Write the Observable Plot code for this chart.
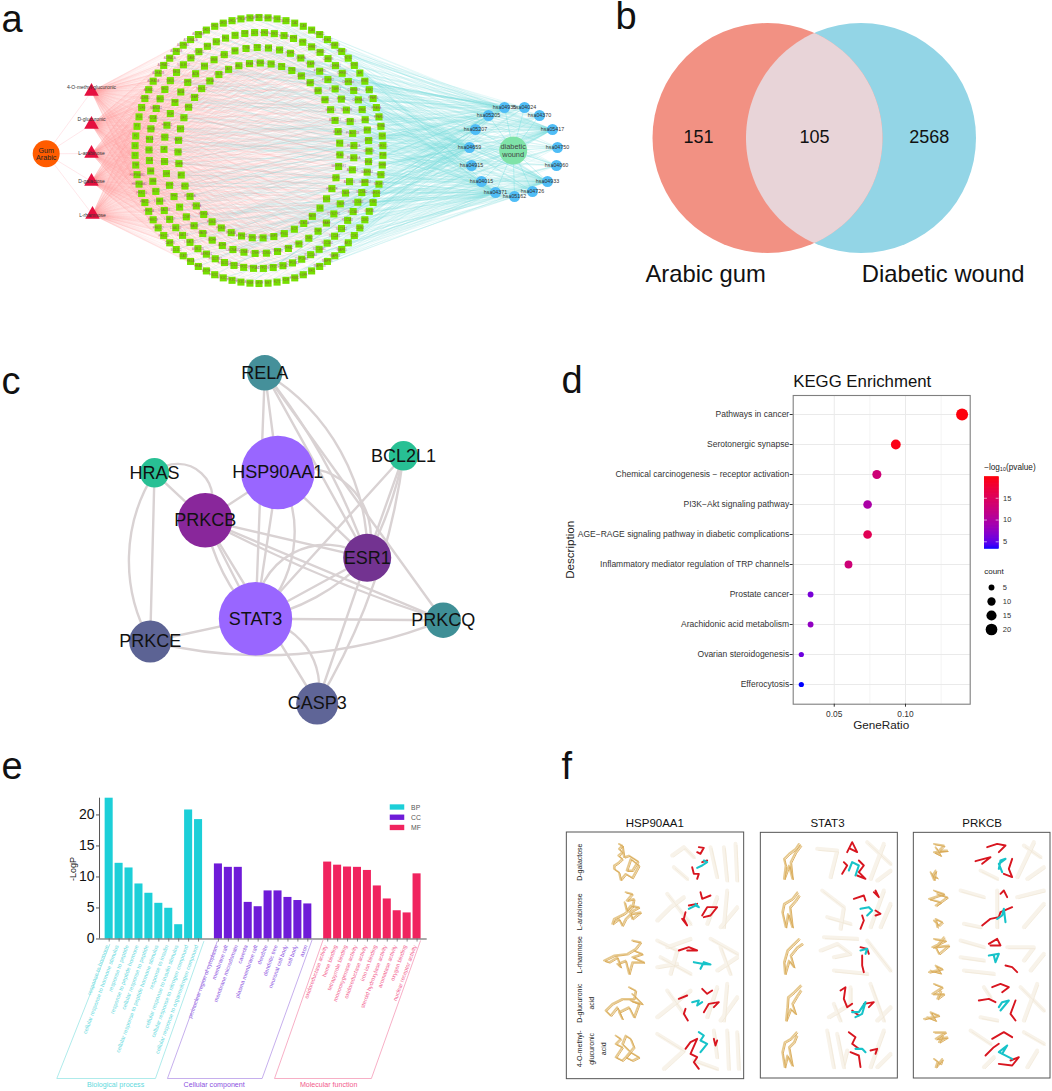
<!DOCTYPE html>
<html>
<head>
<meta charset="utf-8">
<script src="https://cdn.jsdelivr.net/npm/d3@7"></script>
<script src="https://cdn.jsdelivr.net/npm/@observablehq/plot@0.6"></script>
<style>
html,body{margin:0;padding:0;background:#fff}
#fig{position:relative;width:1052px;height:1091px;overflow:hidden;font-family:"Liberation Sans",sans-serif}
#fig svg{position:absolute;max-width:none;overflow:visible}
</style>
</head>
<body>
<div id="fig"></div>
<script>
// ---------- Panel a : network ----------
const compounds = ["4-O-methyl-glucuronic","D-glucuronic","L-arabinose","D-galactose","L-rhamnose"];
const pathways = ["hsa04935","hsa04024","hsa04370","hsa05417","hsa04750","hsa04060","hsa04933","hsa04726","hsa05162","hsa04371","hsa04015","hsa04915","hsa04659","hsa05207","hsa05205"];
const targets = [
"BACE1","MMP9","PTGS2","ALOX5","CA2","CA9","CA4","HDAC1","HDAC2","HDAC6","HDAC8","NOS2","NOS3","AR","ESR1","ESR2",
"PPARG","PPARA","PPARD","RXRA","VDR","NR3C1","PGR","THRB","RORC","NR1H3","NR1H2","FXR1","GSK3B","CDK2","CDK4","CDK5",
"AKT1","MAPK1","MAPK3","MAPK8","MAPK14","SRC","EGFR","ERBB2","KDR","FLT1","MET","IGF1R","INSR","PIK3CA","PIK3CB","PIK3CD",
"PIK3CG","MTOR","HRAS","RELA","STAT3","BCL2L1","CASP3","PRKCB","PRKCQ","PRKCE","PRKCA","PRKCD","PRKCG","HSP90AA1","HSP90AB1","TNF",
"IL2","IL6","F2","F3","F10","TLR4","ADRB2","ADRB1","ADRA2A","ADRA2B","ADRA2C","ADRA1A","ADRA1B","ADORA1","ADORA2A","ADORA3",
"DRD1","DRD2","DRD3","DRD4","HTR1A","HTR2A","HTR2B","HTR2C","HTR3A","HTR6","HTR7","CHRM1","CHRM2","CHRM3","CHRM4","CHRM5",
"CHRNA4","CHRNB2","CHRNA7","GRM1","GRM2","GRM5","GRIN1","GRIN2B","GRIA2","GABRA1","GABRB2","SLC6A2","SLC6A3","SLC6A4","SLC5A1","SLC5A2",
"SLC2A1","SLC2A4","SLC16A1","SLC22A1","CYP19A1","CYP17A1","CYP1A2","CYP2C9","CYP2D6","CYP3A4","CYP2C19","HSD11B1","HSD17B1","HSD17B2","AKR1B1","AKR1C3",
"LGALS1","LGALS3","LGALS4","LGALS7","LGALS8","LGALS9","GLO1","GBA","GAA","GLA","GLB1","HEXA","HEXB","FUCA1","MAN2A1","NEU1",
"NEU2","NEU3","NEU4","SIGLEC7","ICAM1","VCAM1","SELE","SELP","SELL","CD4","CD38","CD74","FGF1","FGF2","FGFR1","VEGFA",
"PTAFR","PTGER1","PTGER2","PTGER4","PTGIR","TBXA2R","TBXAS1","PLA2G1B","PLA2G2A","PLA2G4A","ALOX12","ALOX15","LTA4H","LTB4R","CYSLTR1","FAAH",
"CNR1","CNR2","TRPV1","TRPA1","TRPM8","SCN9A","KCNH2","KCNA3","CACNA1C","ACHE","BCHE","MAOA","MAOB","COMT","TH","TPH1",
"GSTP1","GSR","SOD1","CAT","NQO1","HMOX1","XDH","PNP","ADA","DPP4","ACE","REN","MME","ECE1","NEP","CTSB",
"CTSD","CTSK","CTSL","CTSS","MMP1","MMP2","MMP3","MMP8","MMP13","ADAM17","ELANE","PLG","PLAU","SERPINE1","FDPS","HMGCR",
"SQLE","LSS","FASN","ACACA","GCK","PYGL","G6PD","PTPN1","PTPN2","PTPN11","PDE4A","PDE4B","PDE4D","PDE5A","PDE3A","PDE10A",
"AOC3","ATIC","DHFR","TYMS","PARP1","SIRT1","SIRT2","BRD4","KEAP1","NFE2L2","HIF1A","EGLN1","JAK2","ABL1","BRAF","MDM2"];
const ringSizes = [86,70,53,47];
// layout of panel a
const ringLayout = [{rx:124,ry:133},{rx:110,ry:118},{rx:95,ry:103},{rx:81,ry:87.5}];
const ringCentre = [258.5,150];
const compoundXY = [[91,91],[91,124],[91,153],[91,181],[92,214]];
const compoundLabelY = [87,119,153,181,215];
const pathwayXY = [[504,107],[524,107],[539,115],[552,129],[557,147],[556,165],[547,181],[532,191],[514,196],[495,192],[481,181],[471,165],[469,147],[475,129],[488,115]];

// ---------- Panel b : venn ----------
const vennNames = ["Arabic gum","Diabetic wound"];
const vennCounts = [151,105,2568];

// ---------- Panel c : PPI ----------
const ppiNames = ["RELA","HSP90AA1","BCL2L1","HRAS","PRKCB","ESR1","STAT3","PRKCQ","PRKCE","CASP3"];
const ppiEdges = [
["RELA","HSP90AA1",0],["RELA","ESR1",0],["RELA","ESR1",10],["RELA","ESR1",30],["RELA","PRKCQ",0],["RELA","STAT3",0],
["HSP90AA1","ESR1",0],["HSP90AA1","ESR1",65],["HSP90AA1","STAT3",0],["HSP90AA1","STAT3",40],["HSP90AA1","PRKCB",0],
["HRAS","PRKCB",0],["HRAS","PRKCB",85],["HRAS","PRKCE",0],["HRAS","PRKCE",-31],
["PRKCB","STAT3",0],["PRKCB","STAT3",-16],["PRKCB","ESR1",0],["PRKCB","PRKCQ",0],["PRKCB","PRKCQ",-5],["PRKCB","CASP3",0],
["ESR1","STAT3",0],["ESR1","STAT3",-64],["ESR1","STAT3",18],["ESR1","CASP3",0],
["BCL2L1","STAT3",0],["BCL2L1","ESR1",0],["BCL2L1","ESR1",8],["BCL2L1","CASP3",12],
["STAT3","PRKCQ",0],["STAT3","PRKCE",0],["PRKCE","PRKCQ",-18],["STAT3","CASP3",50]];
// layout of panel c
const ppiXY = [[264.3,372.3],[277.3,472],[403,455.3],[154,472.3],[204.7,519.7],[366.7,557.3],[255,618.3],[442.7,619.7],[149.7,641],[316.7,703]];
const ppiR = [17.7,36.7,14.7,14.7,27.3,24,36.7,17.7,21,21];
const ppiFill = ["#45909a","#9966ff","#28c094","#28c094","#89279b","#733391","#9966ff","#3f8f96","#5c6394","#5f6597"];

// ---------- Panel d : KEGG ----------
const keggTerms = ["Pathways in cancer","Serotonergic synapse","Chemical carcinogenesis \u2212 receptor activation","PI3K\u2212Akt signaling pathway","AGE\u2212RAGE signaling pathway in diabetic complications","Inflammatory mediator regulation of TRP channels","Prostate cancer","Arachidonic acid metabolism","Ovarian steroidogenesis","Efferocytosis"];
const keggRatio = [0.1397,0.0932,0.0799,0.0734,0.0734,0.0600,0.0334,0.0334,0.0269,0.0269];
const keggCount = [21,14,12,11,11,9,5,5,4,4];
const keggLogP = [19.7,19.3,13,9.5,15.5,13,6,7.5,5.5,3.3];
const countLegend = [5,10,15,20];

// ---------- Panel e : GO ----------
const bpTerms = ["response to hormone","cellular response to hormone stimulus","response to peptide","response to peptide hormone","cellular response to peptide","cellular response to peptide hormone stimulus","response to insulin","cellular response to insulin stimulus","cellular response to nitrogen compound","cellular response to organonitrogen compound"];
const bpValues = [22.7,12.2,11.45,8.87,7.37,5.75,4.95,2.3,20.8,19.25];
const ccTerms = ["perinuclear region of cytoplasm","membrane raft","membrane microdomain","caveola","plasma membrane raft","dendrite","dendritic tree","neuronal cell body","cell body","axon"];
const ccValues = [12.1,11.55,11.55,5.9,5.2,7.75,7.75,6.7,6.2,5.65];
const mfTerms = ["oxidoreductase activity","heme binding","tetrapyrrole binding","monooxygenase activity","oxidoreductase activity","iron ion binding","steroid hydroxylase activity","aromatase activity","oxygen binding","nuclear receptor activity"];
const mfValues = [12.4,11.9,11.6,11.55,11.05,8.55,6.45,4.55,4.2,10.5];
const goGroups = ["BP","CC","MF"];
const goNames = ["Biological process","Cellular component","Molecular function"];

// ---------- Panel f : docking ----------
const proteins = ["HSP90AA1","STAT3","PRKCB"];
const ligandLines = [["D-galactose"],["L-arabinose"],["L-rhamnose"],["D-glucuronic","acid"],["4-O-methyl-","glucuronic","acid"]];
const paleRibbons = [
"365,195 400,170 430,200","480,170 500,260","520,170 530,270","555,160 560,270","370,230 410,265",
"320,390 360,350 400,320","350,310 420,400","500,320 470,400","530,300 520,410","560,350 510,410",
"320,450 380,480 360,550","480,445 560,490","500,540 560,500","320,530 380,520","510,470 540,550","420,445 350,470","330,500 420,550",
"320,680 370,640 420,600","350,600 400,670","500,590 470,680","530,580 520,690","560,620 510,690",
"320,730 400,780 340,835","530,720 535,835","560,725 565,835","430,810 500,835","490,720 500,800",
"800,175 860,180 840,260","950,155 1020,220","1000,160 960,265","1020,240 980,270",
"815,300 880,350 870,415","830,380 900,400","1000,300 960,410","1020,340 990,410",
"810,480 860,460 900,490 850,500","820,440 920,445","850,540 950,550","950,450 1020,540",
"850,640 870,690","835,680 900,640 900,590","960,580 1000,690","1020,650 980,690",
"860,730 880,830","830,720 850,830","1000,720 960,830","1020,790 980,830","890,780 880,820",
"1420,165 1470,200","1450,155 1400,260","1480,230 1430,265","1290,240 1340,265",
"1230,300 1300,320","1340,300 1340,410","1400,320 1480,300","1420,410 1480,340","1240,400 1290,410",
"1230,450 1300,470","1370,470 1450,470 1420,510","1240,540 1330,550","1440,540 1480,490","1230,500 1300,510",
"1410,590 1480,660","1460,580 1420,690","1290,680 1340,690","1300,590 1320,620",
"1260,720 1320,760","1420,725 1480,760","1430,830 1460,780","1300,830 1330,800"];
const tanChains = [
"205,160 215,165 205,175 215,185 203,195 215,205 205,215 190,225 190,235 205,245 210,268 225,250 245,262 265,225 240,205 228,240 245,240 262,212 235,195 220,200 215,165",
"225,305 245,310 228,330 250,325 245,350 220,370 190,385 185,400 205,385 215,405 225,385 240,370 270,365 245,385 238,365 265,350 240,345 228,360 222,335",
"245,450 270,455 255,475 230,490 190,495 160,510 175,515 200,500 210,530 200,520 225,510 235,550 245,515 280,515 245,500 275,490 250,480",
"235,590 255,600 250,625 215,625 185,640 165,660 180,675 200,650 215,685 205,665 235,650 250,680 265,640 240,630 275,640 245,610",
"195,735 210,745 195,760 215,770 205,785 195,800 215,810 240,785 265,800 245,810 225,800 250,770 240,745 225,735 215,760 235,780",
"745,160 735,175 715,190 700,205 705,225 700,265 715,225 725,265 720,215 735,185 750,165",
"740,305 725,325 700,340 695,365 705,410 712,370 725,410 718,350 735,330 745,315",
"745,445 725,465 710,480 700,515 703,550 715,510 730,530 720,495 740,470 755,460",
"750,585 730,605 712,620 710,650 706,690 720,655 735,670 725,640 740,615 750,600",
"738,725 720,745 702,755 695,785 702,830 710,795 725,825 715,770 730,755 738,735",
"1150,160 1180,165 1165,180 1190,180 1150,185 1170,195 1155,170","1140,245 1150,268 1155,240 1145,255 1160,262",
"1150,300 1180,310 1135,325 1170,335 1155,345 1190,320 1160,310","1150,390 1165,405 1175,395 1155,385 1160,410",
"1150,445 1185,450 1145,470 1195,465 1165,490 1155,470 1180,440","1135,545 1175,535 1155,525 1170,548 1140,540",
"1150,580 1175,590 1145,610 1180,610 1160,625 1170,600","1120,685 1165,675 1140,665 1155,690 1130,680",
"1150,725 1185,725 1155,745 1190,740 1165,755 1175,735","1150,805 1170,820 1175,805 1155,830 1160,815"];
const redSticks = [
"445,170 460,172 450,190 440,185","425,230 430,250 445,250 440,265","455,215 470,210",
"450,305 455,325 480,315","405,365 400,385 410,405 395,385","455,375 470,350 500,350 480,375 460,380","415,345 440,340",
"385,480 415,470 440,480 410,480",
"385,625 410,615","455,595 470,610 485,600","405,655 400,670 412,690","460,665 475,640 505,635 490,650",
"405,775 420,755 440,745 420,790 440,800 430,815 445,835","490,745 495,765 500,750",
"890,185 905,155 920,185 900,175","875,250 890,225 880,215","925,210 940,225 925,245 945,265 920,255",
"910,325 940,315 945,330","970,305 985,320 975,300","975,360 990,370 975,375","935,375 940,390 930,415",
"930,470 950,475 955,490","935,495 935,525 940,545",
"870,600 885,590 880,625 890,650 905,640","940,640 970,635 955,650","905,660 925,675",
"895,725 915,740 905,760 925,775","900,785 925,795 930,830","960,780 980,775 975,790",
"1310,170 1340,160 1365,165 1345,185","1275,212 1300,205 1320,200 1295,220","1385,205 1375,235 1385,260 1360,250",
"1350,310 1360,300 1370,320","1295,405 1320,385 1345,380 1350,365 1385,350",
"1315,460 1340,445 1350,465 1320,465","1365,525 1385,530 1400,545",
"1325,590 1350,580 1375,590 1355,605","1285,630 1315,625 1335,635","1395,630 1380,670 1395,690",
"1325,745 1360,725 1385,740","1305,795 1330,770 1345,760","1345,820 1385,825 1405,800 1380,810"];
const cyanSticks = [
"440,232 455,225 470,215 460,210","415,355 435,345 445,350 435,340","430,515 455,520 480,522 460,515 450,535","425,635 445,630 440,645 455,635","445,725 460,735 450,750 470,760 450,785",
"895,240 905,215 925,225 915,255","930,355 955,350 965,360 950,375","930,480 950,475 945,490","905,665 925,665 945,635 935,670 915,680","915,775 935,775 945,785",
"1345,235 1350,210 1365,205 1345,220 1355,245","1340,385 1355,375 1360,355 1365,395","1315,495 1345,490 1335,515 1330,495","1345,650 1355,635 1375,630 1350,660","1355,790 1370,765 1345,785 1385,805"];

// ---------- Panel letters ----------
const panelLetters = ["a","b","c","d","e","f"];
const letterXY = [[1,31],[615,28],[1,393],[561,392],[1,778],[561,778]];

// ---------- helpers ----------
const fig = document.getElementById("fig");
const FONT = '"Liberation Sans", sans-serif';
function place(svg,left,top){ svg.style.left = left+"px"; svg.style.top = top+"px"; fig.appendChild(svg); return svg; }
function stage(left,top,w,h,marks){
  return place(Plot.plot({
    width:w,height:h,margin:0,
    style:{background:"transparent",fontFamily:FONT},
    x:{domain:[left,left+w],axis:null},
    y:{domain:[top,top+h],axis:null,reverse:true},
    r:{type:"identity"},
    marks
  }),left,top);
}
const parsePolys = list => list.flatMap((s,id)=>s.split(" ").map(p=>{const [x,y]=p.split(",").map(Number);return {x,y,id};}));

// ---------- draw a ----------
(function(){
  const tNodes=[]; let k=0;
  ringSizes.forEach((n,r)=>{
    for(let i=0;i<n;i++,k++){
      const a=-Math.PI/2+2*Math.PI*i/n+r*0.05;
      tNodes.push({name:targets[k],x:ringCentre[0]+ringLayout[r].rx*Math.cos(a),y:ringCentre[1]+ringLayout[r].ry*Math.sin(a),i:k});
    }
  });
  const cNodes=compounds.map((name,i)=>({name,x:compoundXY[i][0],y:compoundXY[i][1],ly:compoundLabelY[i]}));
  const pNodes=pathways.map((name,i)=>({name,x:pathwayXY[i][0],y:pathwayXY[i][1]}));
  const gum={x:45.7,y:153.3}, wound={x:512.7,y:150};
  const redEdges=[], cyanEdges=[];
  tNodes.forEach(t=>{
    cNodes.forEach(c=>redEdges.push({x1:c.x,y1:c.y,x2:t.x,y2:t.y}));
    [3,7].forEach(m=>{const p=pNodes[(t.i*m+m)%15];cyanEdges.push({x1:p.x,y1:p.y,x2:t.x,y2:t.y});});
  });
  const lk=(d,stroke,op,w)=>Plot.link(d,{x1:"x1",y1:"y1",x2:"x2",y2:"y2",stroke,strokeOpacity:op,strokeWidth:w});
  stage(0,0,600,300,[
    lk(cyanEdges,"#78dede",0.5,0.35),
    lk(redEdges,"#ff9a9a",0.27,0.35),
    lk(cNodes.map(c=>({x1:gum.x,y1:gum.y,x2:c.x,y2:c.y})),"#ffb0b8",0.6,0.5),
    lk(pNodes.map(c=>({x1:wound.x,y1:wound.y,x2:c.x,y2:c.y})),"#62dcdc",0.7,0.5),
    Plot.dot(tNodes,{x:"x",y:"y",symbol:"square",r:4,fill:"#76e000"}),
    Plot.text(tNodes,{x:"x",y:"y",text:"name",fontSize:3,fill:"#8d2b5a",fillOpacity:0.7}),
    Plot.dot(cNodes,{x:"x",y:"y",symbol:"triangle",r:5.4,fill:"#e5103f"}),
    Plot.text(cNodes,{x:"x",y:"ly",text:"name",fontSize:5,fill:"#333"}),
    Plot.dot(pNodes,{x:"x",y:"y",r:5.5,fill:"#4fbdf6"}),
    Plot.text(pNodes,{x:"x",y:"y",text:"name",fontSize:5.3,fill:"#333"}),
    Plot.dot([gum],{x:"x",y:"y",r:13.5,fill:"#ff5c00"}),
    Plot.text([gum],{x:"x",y:"y",text:()=>"Gum\nArabic",fontSize:7.2,fill:"#222"}),
    Plot.dot([wound],{x:"x",y:"y",r:14,fill:"#7fe3a8"}),
    Plot.text([wound],{x:"x",y:"y",text:()=>"diabetic\nwound",fontSize:7.4,fill:"#444"})
  ]);
})();

// ---------- draw b ----------
(function(){
  const cA={x:767,y:137.5}, cB={x:860.5,y:137.5}, R=115;
  const half=Math.acos((cB.x-cA.x)/2/R);
  const lens=[];
  for(let t=-half;t<=half;t+=half/40) lens.push({x:cA.x+R*Math.cos(t),y:cA.y+R*Math.sin(t)});
  for(let t=Math.PI-half;t<=Math.PI+half;t+=half/40) lens.push({x:cB.x+R*Math.cos(t),y:cB.y+R*Math.sin(t)});
  const numX=[698,814,928.7], nameX=[645,861.3];
  stage(610,0,442,300,[
    Plot.dot([cB],{x:"x",y:"y",r:()=>R,fill:"#93d5e6"}),
    Plot.dot([cA],{x:"x",y:"y",r:()=>R,fill:"#f29183"}),
    Plot.line(lens,{x:"x",y:"y",fill:"#e8d4d8",stroke:"none"}),
    Plot.text(vennCounts,{x:(d,i)=>numX[i],y:()=>136.5,text:d=>String(d),fontSize:18,fill:"#111"}),
    Plot.text(vennNames,{x:(d,i)=>nameX[i],y:()=>274,text:d=>d,fontSize:23.8,textAnchor:"start",fill:"#111"})
  ]);
})();

// ---------- draw c ----------
(function(){
  const nodes=ppiNames.map((name,i)=>({name,x:ppiXY[i][0],y:ppiXY[i][1],r:ppiR[i],fill:ppiFill[i]}));
  const at=Object.fromEntries(nodes.map(n=>[n.name,n]));
  const rows=ppiEdges.map(([a,b,bend])=>({x1:at[a].x,y1:at[a].y,x2:at[b].x,y2:at[b].y,bend}));
  const bends=[...new Set(rows.map(d=>d.bend))];
  stage(0,330,500,410,[
    ...bends.map(b=>Plot.arrow(rows.filter(d=>d.bend===b),{x1:"x1",y1:"y1",x2:"x2",y2:"y2",bend:b,headLength:0,stroke:"#d9d2d3",strokeWidth:2.4})),
    Plot.dot(nodes,{x:"x",y:"y",r:"r",fill:"fill"}),
    Plot.text(nodes,{x:"x",y:"y",text:"name",fontSize:18,fill:"#111"})
  ]);
})();

// ---------- draw d ----------
(function(){
  const rows=keggTerms.map((term,i)=>({term,ratio:keggRatio[i],count:keggCount[i],logp:keggLogP[i]}));
  const colorOpts={type:"linear",domain:[3.3,20],range:["#0000ff","#ff0000"],interpolate:"lab"};
  const rOpts={type:"sqrt",domain:[0,21],range:[0,6]};
  place(Plot.plot({
    width:512,height:380,marginLeft:252.7,marginRight:82.3,marginTop:35,marginBottom:36.3,
    style:{background:"transparent",fontFamily:FONT},
    x:{domain:[0.0212,0.1454]},
    y:{type:"point",domain:keggTerms,padding:0.6},
    color:colorOpts,r:rOpts,
    marks:[
      Plot.ruleX([0.075,0.125],{stroke:"#f1f1f1",strokeWidth:0.8}),
      Plot.ruleX([0.05,0.10],{stroke:"#eaeaea",strokeWidth:1}),
      Plot.ruleY(keggTerms,{y:d=>d,stroke:"#eaeaea",strokeWidth:1}),
      Plot.frame({stroke:"#7f7f7f",strokeWidth:1.1}),
      Plot.axisX({ticks:[0.05,0.10],tickFormat:".2f",tickSize:3,fontSize:8.4,label:null,stroke:"#333",color:"#333",tickPadding:4}),
      Plot.axisY({tickSize:3,fontSize:8.5,label:null,stroke:"#333",color:"#333",tickPadding:1,lineWidth:Infinity}),
      Plot.dot(rows,{x:"ratio",y:"term",r:"count",fill:"logp"}),
      Plot.text(["KEGG Enrichment"],{frameAnchor:"top-left",text:d=>d,dy:-20,dx:0,fontSize:16.8,fill:"#111"}),
      Plot.text(["GeneRatio"],{frameAnchor:"bottom",text:d=>d,dy:25,dx:-0.5,fontSize:11.7,fill:"#222"}),
      Plot.text(["Description"],{frameAnchor:"left",text:d=>d,textAnchor:"middle",rotate:-90,dx:-222.7,dy:0,fontSize:11.6,fill:"#222"})
    ]
  }),540,360);
  // colour bar
  const levels=d3.range(3.3,19.8,0.1);
  place(Plot.plot({
    width:40,height:90,marginLeft:0,marginRight:25.4,marginTop:6,marginBottom:11.3,
    style:{background:"transparent",fontFamily:FONT},
    x:{domain:[0,1],axis:null},
    y:{domain:[3.3,20]},
    color:colorOpts,
    marks:[
      Plot.rect(levels,{x1:()=>0,x2:()=>1,y1:d=>d,y2:d=>d+0.25,fill:d=>d}),
      Plot.ruleY([5,10,15],{x1:0,x2:0.2,stroke:"#fff",strokeWidth:0.6}),
      Plot.ruleY([5,10,15],{x1:0.8,x2:1,stroke:"#fff",strokeWidth:0.6}),
      Plot.axisY({ticks:[5,10,15],anchor:"right",tickSize:0,tickPadding:4,fontSize:7.5,label:null,color:"#333"})
    ]
  }),983.7,470);
  // size legend
  place(Plot.plot({
    width:77,height:85,marginLeft:0,marginRight:0,marginTop:6.7,marginBottom:34.7,
    style:{background:"transparent",fontFamily:FONT},
    x:{domain:[975,1052],axis:null},
    y:{type:"point",domain:countLegend,axis:null,padding:0},
    r:rOpts,
    marks:[
      Plot.dot(countLegend,{x:()=>991,y:d=>d,r:d=>d,fill:"#000"}),
      Plot.text(countLegend,{x:()=>1002.3,y:d=>d,text:d=>String(d),textAnchor:"start",fontSize:7.5,fill:"#333"})
    ]
  }),975,580);
  stage(975,455,77,125,[
    Plot.text(["\u2212log\u2081\u2080(pvalue)"],{x:()=>983.7,y:()=>466.7,text:d=>d,textAnchor:"start",fontSize:8.2,fill:"#222"}),
    Plot.text(["count"],{x:()=>983.7,y:()=>571.3,text:d=>d,textAnchor:"start",fontSize:8,fill:"#222"})
  ]);
})();

// ---------- draw e ----------
(function(){
  const groups=[[bpTerms,bpValues,0,"#1ccfd8","#62d9dd"],[ccTerms,ccValues,11,"#6f1bd8","#8a50e0"],[mfTerms,mfValues,22,"#f0245f","#f25a8c"]];
  const rows=groups.flatMap(([terms,vals,off,fill,tint],g)=>terms.map((term,i)=>({term,value:vals[i],slot:off+i,fill,tint,group:goGroups[g]})));
  const brackets=[
    {id:0,c:"#9be6e6",p:[[0.06,-0.9],[-5.27,-22.5],[4.66,-22.5],[9.53,-0.4]]},
    {id:1,c:"#b79be8",p:[[10.88,-0.4],[5.87,-22.5],[15.4,-22.5],[20.44,-0.1]]},
    {id:2,c:"#f59ab8",p:[[21.55,-0.1],[16.65,-22.5],[26.4,-22.5],[31.34,-0.3]]}
  ].flatMap(b=>b.p.map(([x,y])=>({x,y,id:b.id,c:b.c})));
  const legend=goGroups.map((g,i)=>({g,y:[21.2,19.55,17.9][i],c:groups[i][3]}));
  place(Plot.plot({
    width:530,height:341,marginLeft:99,marginRight:103.3,marginTop:47.7,marginBottom:13,
    style:{background:"transparent",fontFamily:FONT},
    x:{domain:[-0.973,32.02],axis:null},
    y:{domain:[-22.5,22.7]},
    marks:[
      Plot.rect(rows,{x1:d=>d.slot-0.405,x2:d=>d.slot+0.405,y1:()=>0,y2:"value",fill:"fill"}),
      Plot.ruleY([0],{x1:-0.97,x2:32.02,stroke:"#555",strokeWidth:1.1}),
      Plot.ruleX([-0.97],{y1:0,y2:22.7,stroke:"#555",strokeWidth:1}),
      Plot.ruleX(rows,{x:"slot",y1:0,y2:-0.5,stroke:"#555",strokeWidth:0.7}),
      Plot.axisY({ticks:[0,5,10,15,20],tickSize:3,tickPadding:2,fontSize:14,label:null,stroke:"#555",color:"#111"}),
      Plot.text(["-LogP"],{x:()=>-3.6,y:()=>11.3,text:d=>d,rotate:-90,fontSize:9,fill:"#222"}),
      Plot.text(rows,{x:d=>d.slot-0.2,y:()=>-1,text:"term",rotate:-70,textAnchor:"end",fontSize:5.6,fill:"tint"}),
      Plot.line(brackets,{x:"x",y:"y",z:"id",stroke:"c",strokeWidth:0.8}),
      Plot.text(goNames,{x:(d,i)=>[0.65,10.57,22.1][i],y:()=>-23.5,text:d=>d,fontSize:7.1,fill:(d,i)=>groups[i][4]}),
      Plot.rect(legend,{x1:()=>28.3,x2:()=>29.76,y1:d=>d.y-0.43,y2:d=>d.y+0.43,fill:"c"}),
      Plot.text(legend,{x:()=>30.4,y:"y",text:"g",textAnchor:"start",fontSize:6.8,fill:"#555"})
    ]
  }),0,750);
})();

// ---------- draw f ----------
(function(){
  const boxes=[[49,126,581,866],[631,127,1042,864],[1090,127,1500,864]].map(([x1,y1,x2,y2])=>({x1,y1,x2,y2}));
  const titleX=[313,831,1295], rowY=[215,364,493,638,775], lineX=[88,125,160];
  const ligandRows=ligandLines.flatMap((lines,r)=>lines.map((t,i)=>({t,x:lineX[i],y:rowY[r]})));
  const poly=(list,stroke,w,extra={})=>Plot.line(parsePolys(list),{x:"x",y:"y",z:"id",stroke,strokeWidth:w,strokeLinejoin:"round",strokeLinecap:"round",...extra});
  place(Plot.plot({
    width:502,height:301,margin:0,
    style:{background:"transparent",fontFamily:FONT},
    x:{domain:[0,1506],axis:null},
    y:{domain:[0,903],axis:null,reverse:true},
    marks:[
      poly(paleRibbons,"#f8f3ea",4),
      poly(paleRibbons,"#efe4d2",0.6,{dx:1.5,dy:1.5}),
      poly(tanChains,"#e6c98f",1.8),
      poly(tanChains,"#d9a956",0.9,{dx:1.2,dy:1}),
      poly(redSticks,"#d8151f",1.9),
      poly(cyanSticks,"#17c3c9",2.1),
      Plot.rect(boxes,{x1:"x1",x2:"x2",y1:"y1",y2:"y2",fill:"none",stroke:"#555",strokeWidth:1}),
      Plot.text(proteins,{x:(d,i)=>titleX[i],y:()=>97,text:d=>d,fontSize:11.5,fill:"#111"}),
      Plot.text(ligandRows,{x:"x",y:"y",text:"t",rotate:-90,fontSize:7,fill:"#222"})
    ]
  }),550,790);
})();

// ---------- letters ----------
stage(0,0,1052,1091,[
  Plot.text(panelLetters,{x:(d,i)=>letterXY[i][0],y:(d,i)=>letterXY[i][1],text:d=>d,fontSize:38,textAnchor:"start",lineAnchor:"bottom",fill:"#111"})
]);
</script>
</body>
</html>
